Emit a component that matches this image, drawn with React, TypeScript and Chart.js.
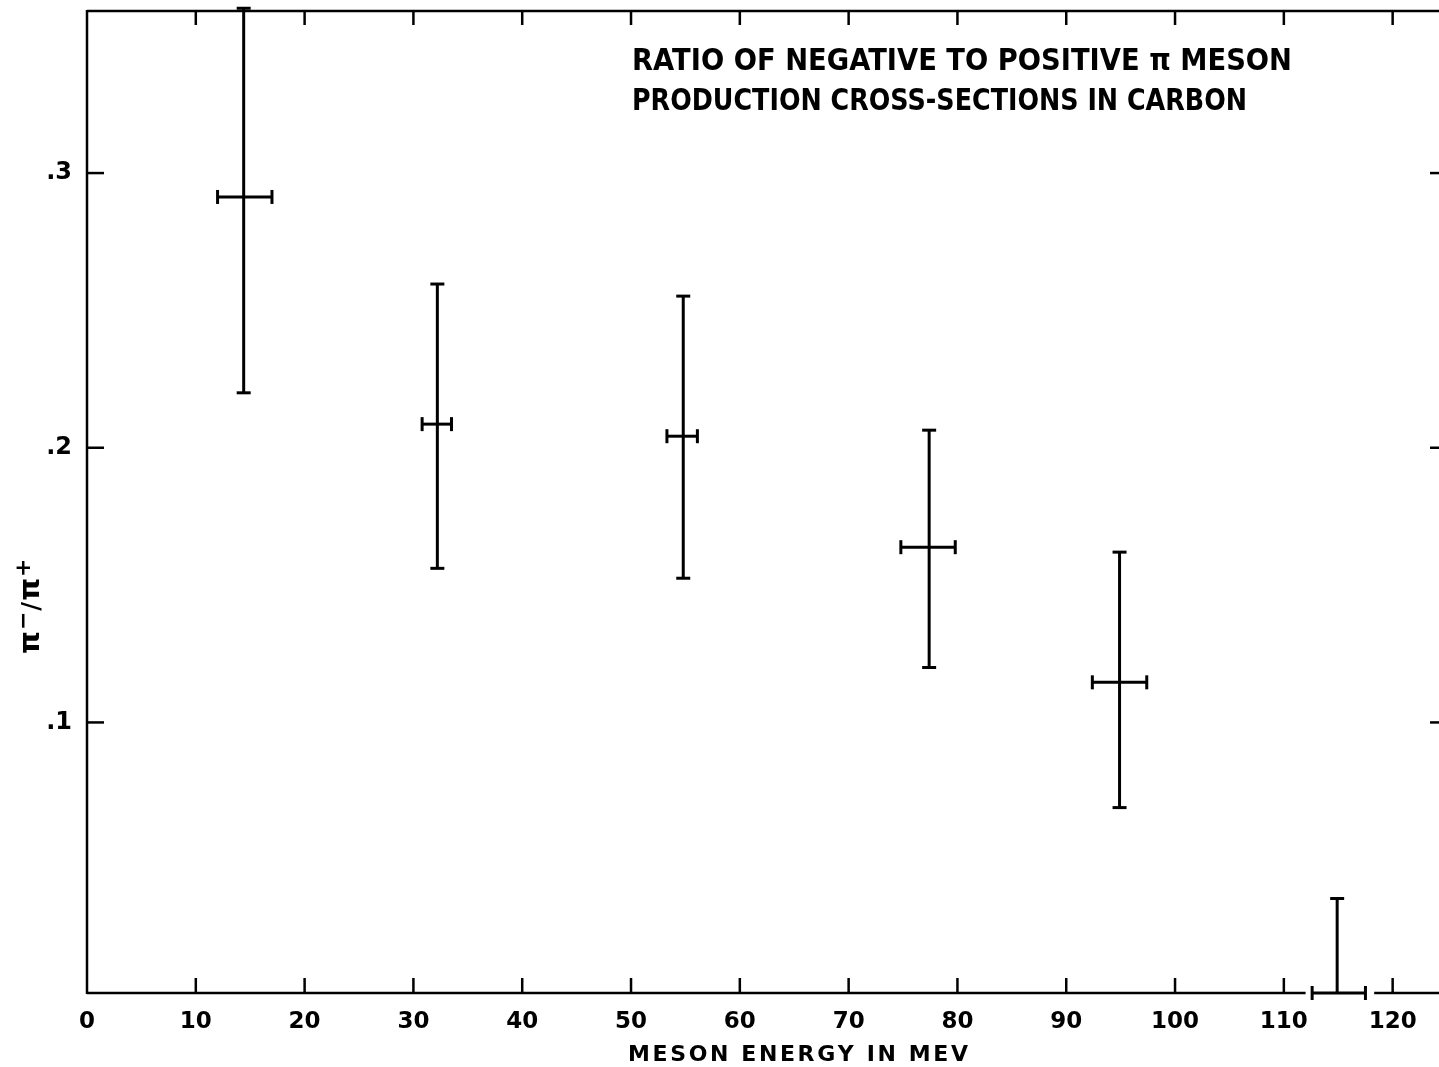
import React, { useEffect, useRef } from "react";
import { Chart, registerables } from "chart.js";

Chart.register(...registerables);

// ---- Data ----
const energies = [14.4, 32.2, 54.8, 77.4, 94.9, 114.9];
const energyLow = [12.0, 30.8, 53.3, 74.8, 92.4, 112.6];
const energyHigh = [17.0, 33.5, 56.1, 79.8, 97.4, 117.5];
const ratios = [0.2913, 0.2086, 0.2042, 0.1638, 0.1146, 0.0015];
const ratioLow = [0.22, 0.1561, 0.1525, 0.12, 0.069, 0.0015];
const ratioHigh = [0.36, 0.2596, 0.2552, 0.2064, 0.162, 0.0359];

const xTickValues = [0, 10, 20, 30, 40, 50, 60, 70, 80, 90, 100, 110, 120];
const xTickLabels = ["0", "10", "20", "30", "40", "50", "60", "70", "80", "90", "100", "110", "120"];
const yTickValues = [0.1, 0.2, 0.3];
const yTickLabels = [".1", ".2", ".3"];
const xAxisBreak = [112.0, 118.3];

const titleLines = [
  "RATIO OF NEGATIVE TO POSITIVE π MESON",
  "PRODUCTION CROSS-SECTIONS IN CARBON",
];
const xTitle = "MESON ENERGY IN MEV";
// y title pieces: [text, isSuperscript]
const yTitleParts: [string, boolean][] = [
  ["π", false],
  ["−", true],
  ["/", false],
  ["π", false],
  ["+", true],
];

const FONT = "'DejaVu Sans', 'Liberation Sans', sans-serif";

const framePlugin = {
  id: "framePlugin",
  afterDraw(chart: any) {
    const { ctx, chartArea } = chart;
    const xs = chart.scales.x;
    const ys = chart.scales.y;
    const { left, right, top, bottom } = chartArea;
    const px = (v: number) => xs.getPixelForValue(v);
    const py = (v: number) => ys.getPixelForValue(v);
    ctx.save();
    ctx.strokeStyle = "#000";
    ctx.fillStyle = "#000";
    ctx.lineCap = "butt";
    ctx.lineWidth = 2.5;

    const line = (x1: number, y1: number, x2: number, y2: number) => {
      ctx.beginPath();
      ctx.moveTo(x1, y1);
      ctx.lineTo(x2, y2);
      ctx.stroke();
    };

    // frame
    line(left, top - 1, left, bottom + 1);
    line(left, top, right, top);
    line(left, bottom, px(xAxisBreak[0]), bottom);
    line(px(xAxisBreak[1]), bottom, right, bottom);

    // ticks
    xTickValues.forEach((v) => {
      if (v === xTickValues[0]) return;
      line(px(v), bottom, px(v), bottom - 15);
      line(px(v), top, px(v), top + 14);
    });
    yTickValues.forEach((v) => {
      line(left, py(v), left + 17, py(v));
      line(right, py(v), right - 9, py(v));
    });

    // error bars
    ctx.lineWidth = 3;
    energies.forEach((x, i) => {
      const cx = px(x);
      const cy = py(ratios[i]);
      const yHi = py(ratioHigh[i]);
      const yLo = py(ratioLow[i]);
      line(cx, yLo, cx, yHi);
      line(cx - 7, yHi, cx + 7, yHi);
      if (ratioLow[i] !== ratios[i]) line(cx - 7, yLo, cx + 7, yLo);
      const xL = px(energyLow[i]);
      const xH = px(energyHigh[i]);
      line(xL, cy, xH, cy);
      line(xL, cy - 7, xL, cy + 7);
      line(xH, cy - 7, xH, cy + 7);
    });

    // chart title (condensed lettering)
    ctx.font = `bold 30px ${FONT}`;
    ctx.textAlign = "left";
    ctx.textBaseline = "alphabetic";
    const titleWidths = [660, 615];
    const titleBase = [70, 110];
    titleLines.forEach((t, i) => {
      const w = ctx.measureText(t).width;
      ctx.save();
      ctx.translate(632, titleBase[i]);
      ctx.scale(titleWidths[i] / w, 1);
      ctx.fillText(t, 0, 0);
      ctx.restore();
    });

    // x title with wide letter spacing
    ctx.font = `bold 22px ${FONT}`;
    const chars = xTitle.split("");
    const widths = chars.map((c) => ctx.measureText(c).width);
    const total = widths.reduce((a, b) => a + b, 0);
    const targetW = 340;
    const gap = (targetW - total) / (chars.length - 1);
    let cx = 628;
    chars.forEach((c, i) => {
      ctx.fillText(c, cx, 1061);
      cx += widths[i] + gap;
    });

    // y title rotated, built from pieces
    ctx.save();
    ctx.translate(39, 654);
    ctx.rotate(-Math.PI / 2);
    ctx.textAlign = "left";
    ctx.textBaseline = "alphabetic";
    let lx = 0;
    yTitleParts.forEach(([t, sup]) => {
      ctx.font = sup ? `bold 22px ${FONT}` : t === "/" ? `bold 24px ${FONT}` : `bold 29px ${FONT}`;
      const w = ctx.measureText(t).width;
      ctx.fillText(t, lx, sup ? -9 : 0);
      lx += w + 1;
    });
    ctx.restore();

    ctx.restore();
  },
};

export default function App() {
  const canvasRef = useRef<HTMLCanvasElement | null>(null);

  useEffect(() => {
    document.body.style.margin = "0";
    document.body.style.overflow = "hidden";
    const canvas = canvasRef.current;
    if (!canvas) return;
    const chart = new Chart(canvas, {
      type: "scatter",
      data: {
        datasets: [
          {
            data: energies.map((x, i) => ({ x, y: ratios[i] })),
            pointRadius: 0,
            showLine: false,
          },
        ],
      },
      options: {
        responsive: false,
        devicePixelRatio: 1,
        animation: false,
        events: [],
        layout: { padding: { top: 11, right: 0, left: 0, bottom: 0 } },
        plugins: { legend: { display: false }, tooltip: { enabled: false } },
        scales: {
          x: {
            type: "linear",
            min: 0,
            max: 124.26,
            grid: { display: false },
            border: { display: false },
            afterBuildTicks: (s: any) => {
              s.ticks = xTickValues.map((v) => ({ value: v }));
            },
            afterFit: (s: any) => {
              s.height = 74;
              s.paddingLeft = 0;
              s.paddingRight = 0;
            },
            ticks: {
              autoSkip: false,
              maxRotation: 0,
              padding: 7,
              color: "#000",
              font: { family: FONT, size: 23, weight: "bold" },
              callback: (v: any) => xTickLabels[xTickValues.indexOf(Number(v))] ?? "",
            },
          },
          y: {
            type: "linear",
            min: 0.0015,
            max: 0.359,
            grid: { display: false },
            border: { display: false },
            afterBuildTicks: (s: any) => {
              s.ticks = yTickValues.map((v) => ({ value: v }));
            },
            afterFit: (s: any) => {
              s.width = 87;
              s.paddingTop = 0;
              s.paddingBottom = 0;
            },
            ticks: {
              padding: 7,
              color: "#000",
              font: { family: FONT, size: 24, weight: "bold" },
              callback: (v: any) => {
                const idx = yTickValues.findIndex((t) => Math.abs(t - Number(v)) < 1e-9);
                return idx >= 0 ? yTickLabels[idx] : "";
              },
            },
          },
        },
      },
      plugins: [framePlugin],
    });
    return () => chart.destroy();
  }, []);

  return (
    <div style={{ width: 1439, height: 1067, background: "#fff" }}>
      <canvas ref={canvasRef} width={1439} height={1067} style={{ display: "block" }} />
    </div>
  );
}
